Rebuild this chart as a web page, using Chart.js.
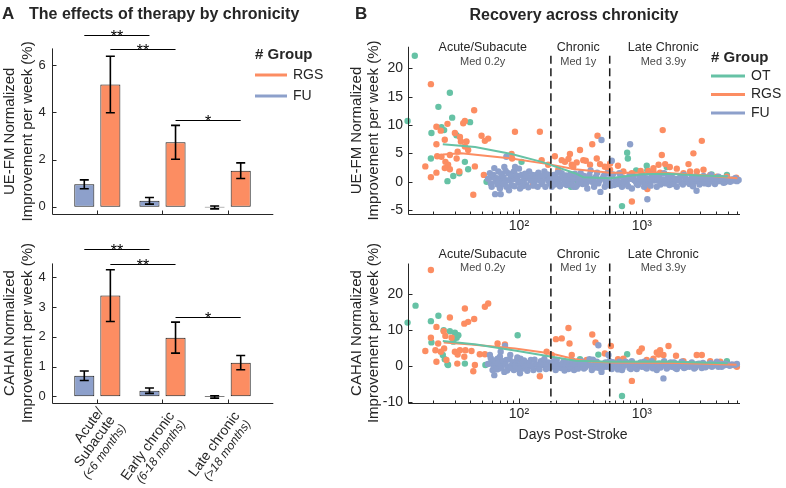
<!DOCTYPE html>
<html><head><meta charset="utf-8">
<script src="https://cdn.jsdelivr.net/npm/chart.js@4.4.1/dist/chart.umd.min.js"></script>
<style>
html,body{margin:0;padding:0;background:#fff;}
#wrap{position:relative;width:786px;height:488px;overflow:hidden;background:#fff;}
canvas{position:absolute;left:0;top:0;}
</style></head><body>
<div id="wrap">
<canvas id="c1" width="786" height="488"></canvas>
<canvas id="c2" width="786" height="488"></canvas>
<canvas id="c3" width="786" height="488"></canvas>
<canvas id="c4" width="786" height="488"></canvas>
</div>
<script>
// ---------------- DATA ----------------
const groups = ['Acute/Subacute', 'Early chronic', 'Late chronic'];
const groupLines = [['Acute/', 'Subacute'], ['Early chronic'], ['Late chronic']];
const groupSub = ['(<6 months)', '(6-18 months)', '(>18 months)'];

// Panel A: mean normalized improvement per week (%) and error
const fmFU = [0.95, 0.25, -0.03];
const fmFUErr = [0.19, 0.14, 0.06];
const fmRGS = [5.18, 2.73, 1.53];
const fmRGSErr = [1.2, 0.72, 0.33];
const cahaiFU = [0.69, 0.19, -0.02];
const cahaiFUErr = [0.16, 0.09, 0.04];
const cahaiRGS = [3.38, 1.97, 1.13];
const cahaiRGSErr = [0.87, 0.52, 0.24];
// significance brackets: [datasetA, groupA, datasetB, groupB, level, label]  (dataset 0 = FU, 1 = RGS)
const fmSig = [[0, 0, 0, 1, 7.26, '**'], [1, 0, 1, 1, 6.67, '**'], [1, 1, 1, 2, 3.68, '*']];
const cahaiSig = [[0, 0, 0, 1, 4.95, '**'], [1, 0, 1, 1, 4.45, '**'], [1, 1, 1, 2, 2.65, '*']];
const fmTicks = [0, 2, 4, 6];
const cahaiTicks = [0, 1, 2, 3, 4];

// Panel B: [days post-stroke, normalized improvement per week (%)]
const fmOT = [[14.2,22.2],[12.4,10.7],[27.4,15.7],[22.1,13.2],[28.6,11.3],[19.4,8.6],[23.4,9.6],[24.6,9.1],[40.0,10.5],[31,8.2],[19.2,4.1],[36.3,3.5],[38.6,2.2],[32.7,1.5],[29.2,1.0],[26.2,0.1],[54.5,0.0],[105,3.5],[760,5.1],[770,4.1],[1097,2.8],[1110,2.0],[690,-4.3],[1597,2.6],[3700,1.3],[900,2.0],[295,0.3],[265,-0.9],[4930,1.2]];
const fmRGS_pts = [[19.2,17.2],[43.2,12.6],[36.3,10.7],[35.2,10.3],[26.2,10.2],[21.3,9.7],[23.1,9.0],[30.1,8.6],[49.6,8.1],[56.2,7.6],[52.8,7.2],[92.8,8.8],[148,8.8],[24.9,7.4],[21.3,6.6],[33.1,7.9],[33.7,7.1],[37.4,7.1],[38.6,5.6],[36.3,6.2],[31.7,5.3],[27.4,4.7],[31.1,4.1],[21.6,4.5],[23.4,4.4],[25.2,3.5],[26.5,3.0],[27.4,2.2],[24.9,2.4],[17.3,2.7],[21.3,1.6],[19.2,0.8],[32.7,1.8],[43.8,2.7],[51.8,1.2],[42.5,-2.3],[87.1,4.9],[88,4.1],[153,3.8],[196,4.5],[223,3.8],[253,4.0],[269,3.0],[173,3.0],[209,2.1],[237,3.5],[130,-0.6],[260,4.9],[314,5.6],[334,3.8],[350,3.7],[395,6.6],[436,8.1],[430,4.1],[500,2.65],[525,2.4],[552,2.1],[640,2.8],[830,1.5],[980,1.9],[1130,1.9],[1244,1.8],[1370,3.0],[1480,9.1],[1550,3.1],[1690,2.6],[1927,2.3],[2400,3.1],[3080,7.2],[3179,2.1],[2805,1.8],[4084,0.9],[4927,0.9],[5870,0.7],[830,-3.5],[1110,-1.3],[277,2.65],[295,3.4],[379,3.0],[457,3.1],[552,3.2],[1409,1.6],[2184,1.5],[2475,1.8],[3603,1.2],[708,1.8],[1244,2.4],[2630,5.0],[1455,4.7]];
const fmFU_pts = [[58,1.5],[60,-0.9],[61,0.9],[64,-2.2],[65,0],[68,1.8],[70,-1.2],[71,-2.2],[73,0.9],[76,2.6],[77,0],[79,-0.9],[82,1.5],[84,0.3],[87,-0.6],[91,1.8],[94,0.8],[99,-0.2],[102,-1.2],[105,1.2],[110,0.3],[115,-0.6],[121,1.8],[127,0.6],[133,-0.2],[139,1.2],[146,0.3],[153,-0.4],[161,1.8],[168,0.6],[176,0],[185,-0.9],[192,1.2],[203,0.4],[212,-0.3],[223,1.5],[234,0.2],[245,-0.6],[256,0.9],[269,0],[279,-0.9],[79,4.4],[63,2.4],[93,2.6],[268,-0.3],[281,0.9],[291,-0.9],[304,0.3],[318,1.5],[330,-0.4],[345,0.6],[360,-1.2],[375,1.2],[392,0],[409,-0.9],[424,0.9],[443,-0.3],[460,-1.8],[470,7.35],[480,0.6],[500,-0.9],[525,1.5],[545,0],[570,3.7],[570,0.9],[595,-0.6],[625,0.3],[657,1.5],[690,-0.9],[715,0.6],[754,-0.2],[795,1.2],[803,6.6],[830,-1.2],[865,0.3],[910,-0.4],[955,0.9],[1000,0],[1045,-0.9],[1097,0.6],[1110,-3.1],[1150,-0.3],[1205,1.2],[1260,0.2],[1324,-0.9],[1390,0.8],[1455,-0.2],[1520,1.5],[1597,0.4],[1680,-0.6],[1755,0.9],[1830,0],[1927,-0.9],[2025,0.6],[2115,-0.2],[2210,1.2],[2325,0.3],[2445,-0.4],[2555,0.8],[2670,0],[2790,-1.6],[2895,0.6],[3020,-0.2],[3180,1.0],[3340,0.3],[3490,-0.4],[3650,1.2],[3836,0.4],[4030,0],[4215,0.9],[4410,0.3],[4628,-0.2],[4865,0.6],[5085,0.2],[5410,0.4],[5760,0.6],[6140,0.3],
[56,0.5],[59,-0.3],[62,1.2],[66,0.6],[67,-0.5],[69,0.3],[72,1.4],[74,-0.4],[75,0.8],[78,1.9],[80,0.2],[83,-1.5],[86,1.0],[89,0.4],[92,-0.8],[96,1.1],[97,0.4],[100,2.3],[104,0],[107,-0.8],[112,1.4],[117,0.9],[119,-1.0],[124,0.2],[129,1.2],[131,-0.7],[136,0.6],[142,-0.9],[144,1.6],[149,0.8],[156,0.1],[158,1.1],[164,-0.9],[171,1.3],[179,0.6],[181,-0.4],[188,0.2],[196,-0.5],[199,0.8],[207,1.6],[216,-0.8],[219,0.6],[228,0.9],[238,-0.4],[241,1.1],[250,0.2],[262,1.3],[265,-0.5],[273,0.5],[285,1.4],[298,-0.6],[310,0.8],[322,-0.1],[338,1.0],[352,-0.3],[367,0.4],[383,2.0],[400,0.5],[416,-0.3],[433,1.6],[452,0.2],[490,1.0],[510,-0.2],[535,0.4],[558,-0.7],[582,1.3],[610,0.1],[640,-0.4],[673,0.9],[700,-0.1],[735,0.4],[775,-0.8],[815,0.5],[850,1.0],[890,0.1],[930,-0.6],[980,0.4],[1020,1.0],[1070,-0.4],[1125,0.3],[1180,-0.7],[1230,0.5],[1290,1.0],[1350,0.2],[1420,-0.5],[1490,0.4],[1560,-0.3],[1640,1.0],[1720,0.1],[1790,-0.4],[1870,0.5],[1980,0.2],[2070,1.0],[2160,-0.5],[2270,0.6],[2380,-0.1],[2500,0.4],[2610,-0.8],[2730,0.9],[2850,0.1],[2950,-0.5],[3100,0.5],[3260,-0.3],[3420,0.8],[3570,0],[3740,0.7],[3940,-0.4],[4120,0.5],[4320,0.1],[4520,0.6],[4750,-0.1],[4980,0.5],[5240,0],[5600,0.2],[5950,0.1]];
const fmOTTrend = [[24,6.6],[44,6.1],[87,4.9],[153,3.5],[286,1.5],[334,0.8],[550,0.6],[1000,1.3],[1600,1.4],[3000,1.1],[5000,0.9]];
const fmRGSTrend = [[24,4.8],[34,5.0],[87,4.1],[173,3.1],[286,2.2],[552,1.6],[1500,1.6],[3000,1.2],[6000,0.6]];
const fmFUTrend = [[58,0.4],[550,0.2],[6000,0.3]];

const cahaiOT = [[12.4,12.1],[14.4,16.8],[19.2,12.5],[22.1,14.0],[24.4,10.0],[27.4,9.7],[30.1,9.3],[31.1,7.9],[32.1,8.6],[19.4,6.6],[24.0,3.1],[24.9,1.9],[26.2,0.5],[36.3,0.7],[53.3,0.3],[97.6,8.6],[103,-0.65],[29.2,6.8],[26.5,0.3],[760,3.3],[443,3.2],[690,-8.3],[4927,1.4],[314,1.9]];
const cahaiRGS_pts = [[19.2,26.7],[36.3,16.0],[52.8,16.5],[56.2,17.4],[43.2,13.1],[27.4,13.5],[35.9,11.8],[38.6,12.3],[21.3,10.9],[25.2,8.4],[24.4,9.7],[19.2,7.9],[28.3,7.9],[22.0,6.3],[20.9,4.4],[17.3,4.2],[23.1,4.0],[24.6,4.9],[30.1,4.0],[31.7,3.2],[33.1,4.4],[36.7,4.4],[41.1,4.2],[35.9,2.6],[43.8,0.3],[42.5,-1.4],[21.3,1.2],[25.7,1.7],[31.5,0.7],[48.0,3.3],[52.8,3.3],[67.0,6.3],[76.9,6.0],[102,1.9],[148,-2.8],[253,10.6],[200,7.5],[223,7.7],[258,6.3],[168,4.0],[185,3.1],[269,3.1],[395,8.8],[420,6.6],[560,5.6],[1000,4.9],[955,4.0],[1324,3.8],[1409,4.4],[1370,3.2],[1650,5.6],[1500,3.1],[1900,2.9],[2800,3.1],[3080,3.1],[830,-4.1],[640,1.9],[500,3.5],[295,1.2],[2184,1.4],[4348,1.2],[5584,0.3],[1244,2.1],[1700,0.7],[356,1.7],[708,2.1],[1097,1.7],[3603,1.4],[5945,-0.2]];
const cahaiFU_pts = [[58,3.1],[60,1.2],[61,-1.1],[63,-2.5],[65,0.3],[67,2.1],[69,-0.65],[71,4.0],[73,0.7],[76,-1.6],[77,5.6],[79,1.7],[82,-0.2],[85,3.1],[88,0.5],[91,-1.1],[95,1.4],[99,0.1],[103,2.1],[108,-0.65],[113,1.0],[119,-0.2],[125,1.7],[131,-1.1],[137,0.5],[144,-0.5],[151,1.4],[158,0.3],[166,-0.8],[173,1.0],[183,-0.2],[191,1.4],[199,-1.1],[209,0.5],[220,-0.5],[230,1.2],[240,0.1],[253,-0.8],[265,0.7],[277,-0.2],[102,-2.0],[268,0.3],[281,-1.1],[295,1.0],[310,-0.2],[325,1.4],[338,-0.65],[356,0.5],[375,1.9],[392,-1.1],[409,0.3],[430,1.2],[443,5.8],[450,-0.5],[470,-1.6],[495,0.7],[518,-0.2],[535,3.1],[545,1.4],[570,-0.8],[595,0.5],[625,-0.2],[657,1.2],[690,-1.1],[715,0.3],[754,1.0],[795,-0.5],[830,1.4],[865,0.1],[910,-0.8],[955,0.7],[1000,-0.2],[1045,1.2],[1097,-0.65],[1150,0.5],[1205,1.4],[1260,-0.2],[1324,-1.1],[1390,0.7],[1455,0.1],[1500,-3.4],[1520,1.4],[1597,-0.65],[1680,0.5],[1755,-0.2],[1830,1.0],[1927,-0.8],[2025,0.3],[2115,1.2],[2210,-0.5],[2325,0.5],[2445,-0.2],[2555,1.0],[2670,-0.65],[2805,0.3],[2940,0.7],[3080,-0.5],[3230,0.5],[3385,0.1],[3560,0.7],[3720,-0.2],[3890,0.5],[4084,1.2],[4290,0.3],[4470,-0.2],[4770,0.7],[5085,0.3],[5410,0.5],[5945,0.6],
[56,0.6],[59,2.2],[62,0.1],[64,1.6],[66,-0.9],[68,0.9],[70,2.6],[72,-0.3],[74,1.4],[78,0.4],[80,-1.2],[84,1.9],[86,-0.5],[90,1.0],[93,0.2],[97,2.4],[100,-0.9],[105,0.7],[110,1.6],[115,0.2],[117,-1.3],[122,0.9],[128,0.0],[134,1.8],[140,0.4],[147,-0.9],[154,0.8],[161,2.0],[169,0.1],[177,-0.5],[186,0.9],[195,0.3],[203,1.7],[214,-0.3],[225,0.6],[235,-1.2],[246,0.9],[259,0.0],[271,1.6],[288,0.6],[302,-0.7],[317,0.4],[332,1.0],[347,-0.3],[365,0.9],[383,0.1],[400,1.8],[420,-0.4],[460,0.6],[483,-0.3],[506,1.0],[528,0.3],[558,-0.4],[582,1.1],[610,0.1],[640,-0.9],[673,0.6],[700,-0.4],[735,1.2],[775,0.3],[815,-0.8],[850,0.7],[890,-0.2],[930,0.5],[980,1.0],[1020,0.1],[1070,-0.4],[1125,0.8],[1180,0.2],[1230,-0.6],[1290,0.6],[1350,0.1],[1420,-0.4],[1560,0.5],[1640,-0.2],[1720,1.0],[1790,0.3],[1870,-0.5],[1980,0.6],[2070,0.0],[2160,0.8],[2270,-0.3],[2380,0.3],[2500,0.7],[2610,0.0],[2730,-0.4],[2850,0.6],[3000,0.2],[3150,0.9],[3300,-0.3],[3470,0.3],[3650,0.8],[3800,0.1],[4000,0.4],[4200,-0.2],[4400,0.6],[4630,0.2],[4900,0.4],[5200,0.1],[5700,0.3]];
const cahaiOTTrend = [[24,7.0],[45,6.0],[95,4.3],[185,2.6],[290,1.5],[550,1.2],[1500,1.3],[3000,1.0],[5000,0.8]];
const cahaiRGSTrend = [[24.4,6.6],[41,6.0],[93,4.9],[183,3.5],[286,1.9],[380,1.3],[552,1.0],[2000,0.9],[5900,0.4]];
const cahaiFUTrend = [[58,0.4],[550,0.2],[6000,0.3]];

const chronicityBounds = [182, 548];
const logMajor = [100, 1000];
const logMinor = [20,30,40,50,60,70,80,90,200,300,400,500,600,700,800,900,2000,3000,4000,5000,6000];
const fmYTicks = [-5, 0, 5, 10, 15, 20];
const cahaiYTicks = [-10, 0, 10, 20];
const periods = [['Acute/Subacute', 'Med 0.2y'], ['Chronic', 'Med 1y'], ['Late Chronic', 'Med 3.9y']];

// ---------------- STYLE ----------------
const C_OT = '#66c2a5', C_RGS = '#fc8d62', C_FU = '#8da0cb';
const INK = '#262626';
const FONT = "'Liberation Sans', Arial, Helvetica, sans-serif";
Chart.defaults.font.family = FONT;
Chart.defaults.color = INK;
Chart.defaults.animation = false;

function txt(ctx, s, x, y, font, align, base, color) {
  ctx.font = font; ctx.textAlign = align || 'left'; ctx.textBaseline = base || 'alphabetic';
  ctx.fillStyle = color || INK; ctx.fillText(s, x, y);
}
function vtitle(ctx, lines, xs, yc, font) {
  lines.forEach((l, i) => {
    ctx.save(); ctx.translate(xs[i], yc); ctx.rotate(-Math.PI / 2);
    txt(ctx, l, 0, 0, font, 'center', 'middle'); ctx.restore();
  });
}
function legend(ctx, items, x, y0, first, dy, lineLen) {
  txt(ctx, '# Group', x, y0, "bold 15px " + FONT);
  items.forEach((it, i) => {
    const y = y0 + first + i * dy;
    ctx.strokeStyle = it[1]; ctx.lineWidth = 3; ctx.beginPath();
    ctx.moveTo(x, y); ctx.lineTo(x + lineLen, y); ctx.stroke();
    txt(ctx, it[0], x + lineLen + 6, y, "14px " + FONT, 'left', 'middle');
  });
}
function fixScale(w, h) {
  return function (s) {
    if (w !== null) s.width = w;
    if (h !== null) s.height = h;
    s.paddingLeft = 0; s.paddingRight = 0; s.paddingTop = 0; s.paddingBottom = 0;
  };
}

// ---------------- BAR PANELS ----------------
const barDecor = {
  id: 'barDecor',
  afterDatasetsDraw(chart, args, o) {
    const ctx = chart.ctx, ca = chart.chartArea, xs = chart.scales.x, ys = chart.scales.y;
    ctx.save();
    o.errors.forEach((errs, d) => {
      const meta = chart.getDatasetMeta(d);
      meta.data.forEach((el, i) => {
        const v = chart.data.datasets[d].data[i].y, e = errs[i];
        const t = ys.getPixelForValue(v + e), b = ys.getPixelForValue(v - e);
        ctx.strokeStyle = '#000'; ctx.lineWidth = 1.6; ctx.beginPath();
        ctx.moveTo(el.x, t); ctx.lineTo(el.x, b);
        ctx.moveTo(el.x - 4.5, t); ctx.lineTo(el.x + 4.5, t);
        ctx.moveTo(el.x - 4.5, b); ctx.lineTo(el.x + 4.5, b);
        ctx.stroke();
      });
    });
    ctx.strokeStyle = INK; ctx.lineWidth = 1;
    const ax = Math.round(ca.left) + 0.5, ay = Math.round(ca.bottom) + 0.5;
    ctx.beginPath();
    ctx.moveTo(ax, ys.getPixelForValue(o.axisTop)); ctx.lineTo(ax, ay); ctx.lineTo(ca.right, ay);
    o.yTicks.forEach(v => { const y = Math.round(ys.getPixelForValue(v)) + 0.5; ctx.moveTo(ax, y); ctx.lineTo(ax + 4, y); });
    [1, 2, 3].forEach(v => { const x = Math.round(xs.getPixelForValue(v)) + 0.5; ctx.moveTo(x, ay); ctx.lineTo(x, ay - 4); });
    ctx.stroke();
    o.sig.forEach(s => {
      const xa = chart.getDatasetMeta(s[0]).data[s[1]].x, xb = chart.getDatasetMeta(s[2]).data[s[3]].x;
      const y = Math.round(ys.getPixelForValue(s[4])) + 0.5;
      ctx.strokeStyle = '#000'; ctx.lineWidth = 1; ctx.beginPath(); ctx.moveTo(xa, y); ctx.lineTo(xb, y); ctx.stroke();
      txt(ctx, s[5], (xa + xb) / 2, y + 6, "16px " + FONT, 'center', 'alphabetic', '#000');
    });
    vtitle(ctx, o.yTitle, [9.5, 27.5], (ys.getPixelForValue(o.axisTop) + ca.bottom) / 2, "15px " + FONT);
    if (o.xLabels) {
      [1, 2, 3].forEach((v, i) => {
        const lines = groupLines[i].concat([groupSub[i]]);
        const x0 = xs.getPixelForValue(v) + 15, y0 = ca.bottom + 15;
        ctx.save(); ctx.translate(x0, y0); ctx.rotate(-54 * Math.PI / 180);
        const lh = 14, n = lines.length;
        lines.forEach((l, k) => {
          const sub = k === n - 1;
          txt(ctx, l, 0, (k - (n - 1) / 2) * lh, sub ? "italic 12px " + FONT : "14px " + FONT, 'right', 'middle');
        });
        ctx.restore();
      });
    }
    if (o.header) {
      txt(ctx, 'A', 2, 19, "bold 17px " + FONT);
      txt(ctx, 'The effects of therapy by chronicity', 29, 19, "bold 16px " + FONT);
      legend(ctx, [['RGS', C_RGS], ['FU', C_FU]], 255, 59, 16, 21, 32);
    }
    ctx.restore();
  }
};

function makeBar(id, fu, fuErr, rgs, rgsErr, yMin, yMax, axisTop, yTicks, sig, top, bottom, yTitle, xLabels, header) {
  return new Chart(document.getElementById(id), {
    type: 'bar',
    data: { datasets: [
      { label: 'FU', data: fu.map((v, i) => ({ x: i + 1, y: v })), backgroundColor: C_FU, borderColor: '#1a1a1a', borderWidth: 1, borderSkipped: false, barPercentage: 0.77, categoryPercentage: 0.8 },
      { label: 'RGS', data: rgs.map((v, i) => ({ x: i + 1, y: v })), backgroundColor: C_RGS, borderColor: '#1a1a1a', borderWidth: 1, borderSkipped: false, barPercentage: 0.77, categoryPercentage: 0.8 }
    ] },
    options: {
      responsive: false, animation: false,
      layout: { padding: { left: 21.7, right: 786 - 273.3, top: top, bottom: 488 - bottom - 10 } },
      scales: {
        x: { type: 'linear', offset: false, min: 0.3, max: 3.7, afterBuildTicks: s => { s.ticks = [1, 2, 3].map(v => ({ value: v })); },
             ticks: { display: false }, grid: { display: false, drawTicks: false, offset: false }, border: { display: false }, afterFit: fixScale(null, 10) },
        y: { type: 'linear', min: yMin, max: yMax, afterBuildTicks: s => { s.ticks = yTicks.map(v => ({ value: v })); },
             ticks: { font: { size: 13 }, padding: 6, color: INK }, grid: { display: false, drawTicks: false }, border: { display: false }, afterFit: fixScale(30, null) }
      },
      plugins: { legend: { display: false }, tooltip: { enabled: false },
        barDecor: { errors: [fuErr, rgsErr], sig: sig, axisTop: axisTop, yTicks: yTicks, yTitle: yTitle, xLabels: xLabels, header: header } }
    },
    plugins: [barDecor]
  });
}

makeBar('c1', fmFU, fmFUErr, fmRGS, fmRGSErr, -0.32, 7.6, 6.71, fmTicks, fmSig, 214.3 - 7.92 * 23.6, 214.3, ['UE-FM Normalized', 'Improvement per week (%)'], false, true);
makeBar('c2', cahaiFU, cahaiFUErr, cahaiRGS, cahaiRGSErr, -0.21, 5.3, 4.46, cahaiTicks, cahaiSig, 402.6 - 5.51 * 29.8, 402.6, ['CAHAI Normalized', 'Improvement per week (%)'], true, false);

// ---------------- SCATTER PANELS ----------------
const scatDecor = {
  id: 'scatDecor',
  afterDatasetsDraw(chart, args, o) {
    const ctx = chart.ctx, ca = chart.chartArea, xs = chart.scales.x, ys = chart.scales.y;
    ctx.save();
    ctx.strokeStyle = '#1a1a1a'; ctx.lineWidth = 1.5; ctx.setLineDash([8, 4.5]);
    chronicityBounds.forEach(d => {
      const x = xs.getPixelForValue(d);
      ctx.beginPath(); ctx.moveTo(x, ca.top + o.dashTop); ctx.lineTo(x, ca.bottom); ctx.stroke();
    });
    ctx.setLineDash([]);
    ctx.strokeStyle = INK; ctx.lineWidth = 1;
    const ax = Math.round(ca.left) + 0.5, ay = Math.round(ca.bottom) + 0.5;
    ctx.beginPath();
    ctx.moveTo(ax, ca.top); ctx.lineTo(ax, ay); ctx.lineTo(ca.right, ay);
    o.yTicks.forEach(v => { const y = Math.round(ys.getPixelForValue(v)) + 0.5; ctx.moveTo(ax, y); ctx.lineTo(ax + 4, y); });
    logMajor.forEach(v => { const x = Math.round(xs.getPixelForValue(v)) + 0.5; ctx.moveTo(x, ay); ctx.lineTo(x, ay - 5); });
    logMinor.forEach(v => { const x = Math.round(xs.getPixelForValue(v)) + 0.5; ctx.moveTo(x, ay); ctx.lineTo(x, ay - 3); });
    ctx.stroke();
    const centers = [482.7, 578.3, 663.3];
    periods.forEach((p, i) => {
      txt(ctx, p[0], centers[i], o.annoY, "12.5px " + FONT, 'center');
      txt(ctx, p[1], centers[i], o.annoY + 13.5, "11px " + FONT, 'center', 'alphabetic', '#4a4a4a');
    });
    vtitle(ctx, o.yTitle, [357, 374], (ca.top + ca.bottom) / 2, "15px " + FONT);
    if (o.header) {
      txt(ctx, 'B', 355, 19, "bold 17px " + FONT);
      txt(ctx, 'Recovery across chronicity', 574, 20, "bold 16px " + FONT, 'center');
      legend(ctx, [['OT', C_OT], ['RGS', C_RGS], ['FU', C_FU]], 711, 62, 14, 18.5, 34);
    }
    if (o.xTitle) txt(ctx, o.xTitle, 573, 435, "14px " + FONT, 'center', 'middle');
    ctx.restore();
  }
};

function pts(a) { return a.map(p => ({ x: p[0], y: p[1] })); }
function makeScatter(id, ot, rgs, fu, otT, rgsT, fuT, yMin, yMax, yTicks, top, bottom, cfg) {
  const dot = (d, c) => ({ data: pts(d), backgroundColor: c, borderWidth: 0, pointRadius: 3.2, clip: false });
  const line = (d, c) => ({ data: pts(d), showLine: true, borderColor: c, borderWidth: 2, pointRadius: 0, clip: false });
  return new Chart(document.getElementById(id), {
    type: 'scatter',
    data: { datasets: [line(otT, C_OT), line(rgsT, C_RGS), line(fuT, C_FU), dot(fu, C_FU), dot(rgs, C_RGS), dot(ot, C_OT)] },
    options: {
      responsive: false, animation: false,
      layout: { padding: { left: 378, right: 786 - 740, top: top, bottom: 488 - bottom - 20 } },
      scales: {
        x: { type: 'logarithmic', min: 12.5, max: 6300, afterBuildTicks: s => { s.ticks = logMajor.map(v => ({ value: v })); },
             ticks: { font: { size: 14 }, padding: 3, color: INK, maxRotation: 0, autoSkip: false, callback: v => (v === 100 ? '10²' : (v === 1000 ? '10³' : '')) },
             grid: { display: false, drawTicks: false }, border: { display: false }, afterFit: fixScale(null, 20) },
        y: { type: 'linear', min: yMin, max: yMax, afterBuildTicks: s => { s.ticks = yTicks.map(v => ({ value: v })); },
             ticks: { font: { size: 14 }, padding: 5, color: INK }, grid: { display: false, drawTicks: false }, border: { display: false }, afterFit: fixScale(30, null) }
      },
      plugins: { legend: { display: false }, tooltip: { enabled: false }, scatDecor: Object.assign({ yTicks: yTicks }, cfg) }
    },
    plugins: [scatDecor]
  });
}

makeScatter('c3', fmOT, fmRGS_pts, fmFU_pts, fmOTTrend, fmRGSTrend, fmFUTrend, -5.75, 23.8, fmYTicks, 214.3 - 29.55 * 5.67, 214.3,
  { dashTop: 9, annoY: 51, yTitle: ['UE-FM Normalized', 'Improvement per week (%)'], header: true, xTitle: null });
makeScatter('c4', cahaiOT, cahaiRGS_pts, cahaiFU_pts, cahaiOTTrend, cahaiRGSTrend, cahaiFUTrend, -10.1, 28.5, cahaiYTicks, 402.5 - 38.6 * 3.6, 402.5,
  { dashTop: 0, annoY: 257.5, yTitle: ['CAHAI Normalized', 'Improvement per week (%)'], header: false, xTitle: 'Days Post-Stroke' });
</script>
</body></html>
